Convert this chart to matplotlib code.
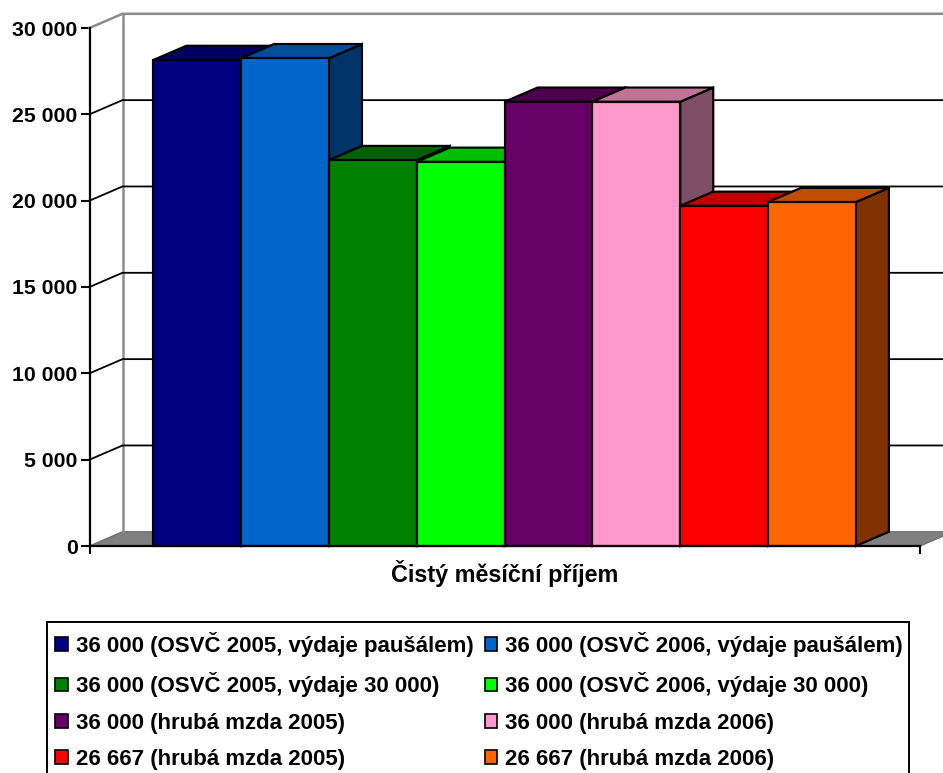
import matplotlib
matplotlib.use("Agg")
import matplotlib.pyplot as plt
from matplotlib.colors import to_rgb
from matplotlib.patches import Polygon, Patch, Rectangle

plt.rcParams['font.family'] = ['Liberation Sans', 'DejaVu Sans']
plt.rcParams['font.weight'] = 'bold'

labels = ["36 000 (OSVČ 2005, výdaje paušálem)", "36 000 (OSVČ 2006, výdaje paušálem)",
          "36 000 (OSVČ 2005, výdaje 30 000)", "36 000 (OSVČ 2006, výdaje 30 000)",
          "36 000 (hrubá mzda 2005)", "36 000 (hrubá mzda 2006)",
          "26 667 (hrubá mzda 2005)", "26 667 (hrubá mzda 2006)"]
values = [28150, 28250, 22350, 22250, 25730, 25730, 19700, 19920]
colors = ["#000080", "#0066CC", "#008000", "#00FF00", "#660066", "#FF99CC", "#FF0000", "#FF6600"]
yticks = [0, 5000, 10000, 15000, 20000, 25000, 30000]
xlabel = "Čistý měsíční příjem"

W, H = 943, 773
fig = plt.figure(figsize=(W / 100, H / 100), dpi=100, facecolor="white")
ax = fig.add_axes([89.5 / W, (H - 546) / H, (920 - 89.5) / W, 518 / H])

XMIN, XMAX = -0.727, 8.73
ax.set_xlim(XMIN, XMAX)
ax.set_ylim(0, 30000)
PX_X = (920 - 89.5) / (XMAX - XMIN)
PX_Y = 518 / 30000
DX = 33.0 / PX_X    # depth offset in data units
DY = 14.2 / PX_Y

def shade(c, f):
    return tuple(v * f for v in to_rgb(c))

def poly(pts, fc, ec="black", lw=1.55, z=3):
    ax.add_patch(Polygon(pts, closed=True, facecolor=fc, edgecolor=ec, linewidth=lw,
                         joinstyle="miter", clip_on=False, zorder=z))

GRAY = "#8c8c8c"
# floor
poly([(XMIN, 0), (XMIN + DX, DY), (XMAX + DX, DY), (XMAX, 0)], "#808080", ec="#707070", lw=1.0, z=1)
# back wall edges and gridlines
ax.plot([XMIN + DX, XMIN + DX], [DY, 30000 + DY], color=GRAY, lw=1.8, clip_on=False, zorder=1.5)
for t in yticks[1:]:
    top = t == yticks[-1]
    c = GRAY if top else "black"
    ax.plot([XMIN, XMIN + DX, XMAX + DX], [t, t + DY, t + DY], color=c,
            lw=1.8 if top else 1.3, clip_on=False, zorder=1.6, solid_joinstyle="miter")

# bars, drawn left to right
for i, (v, c) in enumerate(zip(values, colors)):
    x0, x1 = i, i + 1
    poly([(x1, 0), (x1 + DX, DY), (x1 + DX, v + DY), (x1, v)], shade(c, 0.5))
    poly([(x0, v), (x0 + DX, v + DY), (x1 + DX, v + DY), (x1, v)], shade(c, 0.75))
    poly([(x0, 0), (x1, 0), (x1, v), (x0, v)], c)

# axes furniture
for s in ("top", "right"):
    ax.spines[s].set_visible(False)
ax.spines["left"].set_linewidth(1.6)
ax.spines["bottom"].set_linewidth(1.6)
ax.spines["left"].set_zorder(5)
ax.spines["bottom"].set_zorder(5)
ax.patch.set_visible(False)
ax.set_yticks(yticks)
ax.set_yticklabels([f"{t:,}".replace(",", " ") for t in yticks], fontsize=15.3, fontweight="bold")
ax.set_xticks([XMIN, XMAX])
ax.set_xticklabels([])
ax.tick_params(axis="y", length=6.5, width=1.5, pad=2)
ax.tick_params(axis="x", length=6, width=1.5)
ax.set_xlabel(xlabel, fontsize=16.8, fontweight="bold", labelpad=0.5)

# legend: frame runs past the bottom edge of the picture
fig.add_artist(Rectangle((47 / W, -0.02), (909 - 47) / W, 1 - 622 / H + 0.02, transform=fig.transFigure,
                         facecolor="white", edgecolor="black", linewidth=1.4))
order = [0, 2, 4, 6, 1, 3, 5, 7]
handles = [Patch(facecolor=colors[i], edgecolor="black", linewidth=1.2, label=labels[i]) for i in order]
leg = fig.legend(handles=handles, ncol=2, loc="upper left",
                 bbox_to_anchor=(55 / W, 1 - 632 / H),
                 borderaxespad=0, frameon=False, borderpad=0,
                 fontsize=16, handlelength=0.58, handleheight=0.58, handletextpad=0.36,
                 labelspacing=0.69, columnspacing=0.49)

fig.savefig("out.png", dpi=100)
